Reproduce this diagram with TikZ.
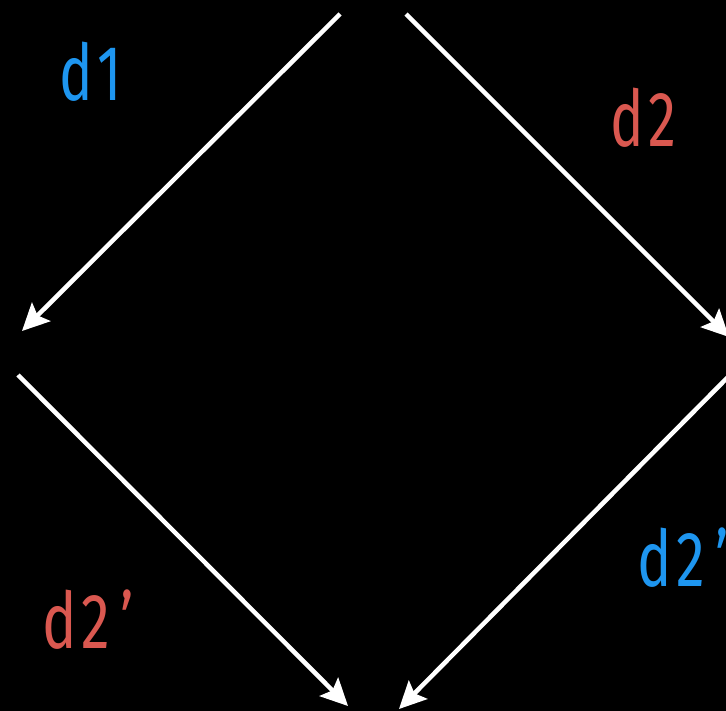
\documentclass[tikz,border=0pt]{standalone}
\usepackage{fontspec}
\setmainfont{Fira Sans}
\usetikzlibrary{arrows.meta}
\definecolor{lblblue}{RGB}{30,150,240}
\definecolor{lblred}{RGB}{218,88,80}
\begin{document}
\begin{tikzpicture}[x=1pt,y=-1pt,
  arr/.style={draw=white,line width=4.5pt,-{Stealth[length=27pt,width=26pt,inset=5pt]}},
  lbl/.style={font=\fontsize{78}{80}\selectfont,inner sep=0pt}]
\fill[black] (0,0) rectangle (726,711);
\useasboundingbox (0,0) rectangle (726,711);
\coordinate (s1) at (340,14);
\coordinate (t1) at (22,331);
\coordinate (s2) at (406,14);
\coordinate (t2) at (729,337);
\coordinate (s3) at (18,375);
\coordinate (t3) at (348,706);
\coordinate (s4) at (729,376);
\coordinate (t4) at (399,709);
\draw[arr] (s1) -- (t1);
\draw[arr] (s2) -- (t2);
\draw[arr] (s3) -- (t3);
\draw[arr] (s4) -- (t4);
\node[lbl,text=lblblue] (l1) at (91,72) {\scalebox{0.72}[1]{d\kern6pt1}};
\node[lbl,text=lblred] (l2) at (643,118) {\scalebox{0.72}[1]{d\kern6pt2}};
\node[lbl,text=lblred] (l3) at (88,620) {\scalebox{0.74}[1]{d\kern7pt2\kern14pt’}};
\node[lbl,text=lblblue] (l4) at (683,558) {\scalebox{0.74}[1]{d\kern7pt2\kern14pt’}};
\end{tikzpicture}
\end{document}
